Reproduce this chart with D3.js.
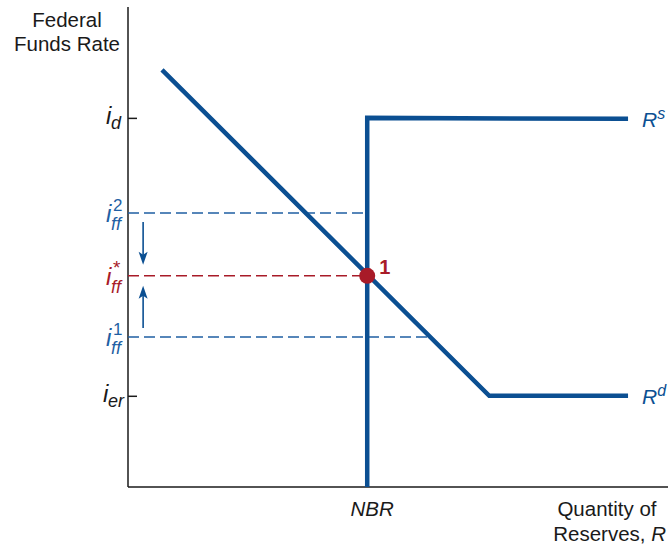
<!DOCTYPE html>
<html>
<head>
<meta charset="utf-8">
<script src="https://cdn.jsdelivr.net/npm/d3@7"></script>
<style>
  body { margin: 0; background: #fff; }
  text { font-family: "Liberation Sans", Arial, sans-serif; }
</style>
</head>
<body>
<div id="chart"></div>
<script>
// Rate levels (arbitrary units, 0 = origin)
var rateLabels = ['d', 'ff2', 'ffstar', 'ff1', 'er'];
var rateValues = [76.9, 57.1, 44.0, 31.25, 19.0];

// Quantity levels
var nbr = 44.3;
var supplyX = [44.3, 44.3, 92.6];
var supplyY = [0, 76.9, 76.7];
var demandX = [6.3, 66.9, 92.6];
var demandY = [86.9, 19.0, 19.0];

var chart_width = 669;
var chart_height = 547;
var blue = '#0b4f92';
var dashBlue = '#1f5fa3';
var red = '#a81b28';
var ink = '#1a1a1a';

var svg = d3.select('#chart')
    .append('svg')
    .attr('width', chart_width)
    .attr('height', chart_height);

var x_scale = d3.scaleLinear().domain([0, 100]).range([128, 668]);
var y_scale = d3.scaleLinear().domain([0, 100]).range([487, 7]);

var rate = {};
rateLabels.forEach(function(k, i){ rate[k] = rateValues[i]; });

// Axes
svg.append('line')
    .attr('x1', x_scale(0)).attr('x2', x_scale(0))
    .attr('y1', y_scale(0)).attr('y2', y_scale(100))
    .attr('stroke', ink).attr('stroke-width', 1.5);
svg.append('line')
    .attr('x1', x_scale(0)).attr('x2', x_scale(100))
    .attr('y1', y_scale(0)).attr('y2', y_scale(0))
    .attr('stroke', ink).attr('stroke-width', 1.5);

// ticks at i_d and i_er
var y_axis = d3.axisRight(y_scale)
    .tickValues([rate.d, rate.er])
    .tickSize(9)
    .tickFormat('');
svg.append('g')
    .attr('transform', 'translate(' + x_scale(0) + ',0)')
    .call(y_axis)
    .call(function(g){
        g.select('.domain').remove();
        g.selectAll('line').attr('stroke', ink).attr('stroke-width', 1.5);
    });

// Dashed guide lines
function demandAt(r) {
    var t = (demandY[0] - r) / (demandY[0] - demandY[1]);
    return demandX[0] + t * (demandX[1] - demandX[0]);
}
var guides = [
    {r: rate.ff2, x2: nbr, color: dashBlue},
    {r: rate.ffstar, x2: nbr, color: red},
    {r: rate.ff1, x2: demandAt(rate.ff1), color: dashBlue}
];
svg.selectAll('.guide')
    .data(guides)
    .enter().append('line')
    .attr('x1', x_scale(0))
    .attr('x2', function(d){ return x_scale(d.x2); })
    .attr('y1', function(d){ return y_scale(d.r); })
    .attr('y2', function(d){ return y_scale(d.r); })
    .attr('stroke', function(d){ return d.color; })
    .attr('stroke-width', 1.5)
    .attr('stroke-dasharray', '11,5');

// Curves
var line = d3.line()
    .x(function(d){ return x_scale(d[0]); })
    .y(function(d){ return y_scale(d[1]); });

svg.append('path')
    .datum(supplyX.map(function(v, i){ return [v, supplyY[i]]; }))
    .attr('fill', 'none')
    .attr('stroke', blue)
    .attr('stroke-width', 4.5)
    .attr('d', line);

svg.append('path')
    .datum(demandX.map(function(v, i){ return [v, demandY[i]]; }))
    .attr('fill', 'none')
    .attr('stroke', blue)
    .attr('stroke-width', 4.5)
    .attr('d', line);

// Equilibrium point
svg.append('circle')
    .attr('cx', x_scale(nbr))
    .attr('cy', y_scale(rate.ffstar))
    .attr('r', 8)
    .attr('fill', red);
svg.append('text')
    .attr('x', x_scale(nbr) + 12)
    .attr('y', y_scale(rate.ffstar) - 2)
    .attr('fill', red)
    .attr('font-size', 20)
    .attr('font-weight', 'bold')
    .text('1');

// Arrows
var arrowX = x_scale(2.8);
function arrow(yFrom, yTo) {
    var dir = yTo > yFrom ? 1 : -1;
    svg.append('line')
        .attr('x1', arrowX).attr('x2', arrowX)
        .attr('y1', yFrom).attr('y2', yTo - dir * 8)
        .attr('stroke', blue).attr('stroke-width', 1.6);
    svg.append('path')
        .attr('d', 'M' + (arrowX - 4.5) + ',' + (yTo - dir * 13) +
                   'L' + arrowX + ',' + yTo +
                   'L' + (arrowX + 4.5) + ',' + (yTo - dir * 13) +
                   'L' + arrowX + ',' + (yTo - dir * 10) + 'Z')
        .attr('fill', blue);
}
arrow(y_scale(rate.ff2) + 9, y_scale(rate.ffstar) - 11);
arrow(y_scale(rate.ff1) - 9, y_scale(rate.ffstar) + 10);

// Y labels
function rateLabel(r, sub, sup, color) {
    var yy = y_scale(r);
    var g = svg.append('g').attr('fill', color).attr('font-style', 'italic');
    var ix = sub === 'er' ? 103 : 106;
    var base = sup ? yy + 9 : yy + 6;
    g.append('text').attr('x', ix).attr('y', base).attr('font-size', 24).text('i');
    g.append('text').attr('x', ix + 5).attr('y', base + (sup ? 8 : 5)).attr('font-size', 18).text(sub);
    if (sup) {
        g.append('text').attr('x', ix + 7).attr('y', yy - 2)
            .attr('font-size', sup === '*' ? 19 : 17)
            .attr('font-style', 'normal')
            .text(sup);
    }
}
rateLabel(rate.d, 'd', null, ink);
rateLabel(rate.ff2, 'ff', '2', dashBlue);
rateLabel(rate.ffstar, 'ff', '*', red);
rateLabel(rate.ff1, 'ff', '1', dashBlue);
rateLabel(rate.er, 'er', null, ink);

// Curve labels
function curveLabel(xv, yv, sup) {
    var t = svg.append('text')
        .attr('x', x_scale(xv) + 14)
        .attr('y', y_scale(yv) + 8)
        .attr('fill', blue)
        .attr('font-style', 'italic')
        .attr('font-size', 21);
    t.append('tspan').text('R');
    t.append('tspan').attr('font-size', 16).attr('dy', -8).text(sup);
}
curveLabel(supplyX[2], supplyY[2], 's');
curveLabel(demandX[2], demandY[2], 'd');

// Axis titles
svg.append('text')
    .attr('x', 67).attr('y', 27)
    .attr('text-anchor', 'middle').attr('font-size', 20.5).attr('fill', ink)
    .text('Federal');
svg.append('text')
    .attr('x', 67).attr('y', 51)
    .attr('text-anchor', 'middle').attr('font-size', 20.5).attr('fill', ink)
    .text('Funds Rate');

svg.append('text')
    .attr('x', x_scale(nbr) + 5).attr('y', 516)
    .attr('text-anchor', 'middle').attr('font-size', 20.5)
    .attr('font-style', 'italic').attr('fill', ink)
    .text('NBR');

svg.append('text')
    .attr('x', 607).attr('y', 516)
    .attr('text-anchor', 'middle').attr('font-size', 20.5).attr('fill', ink)
    .text('Quantity of');
var qr = svg.append('text')
    .attr('x', 666).attr('y', 541)
    .attr('text-anchor', 'end').attr('font-size', 20.5).attr('fill', ink);
qr.append('tspan').text('Reserves, ');
qr.append('tspan').attr('font-style', 'italic').text('R');
</script>
</body>
</html>
